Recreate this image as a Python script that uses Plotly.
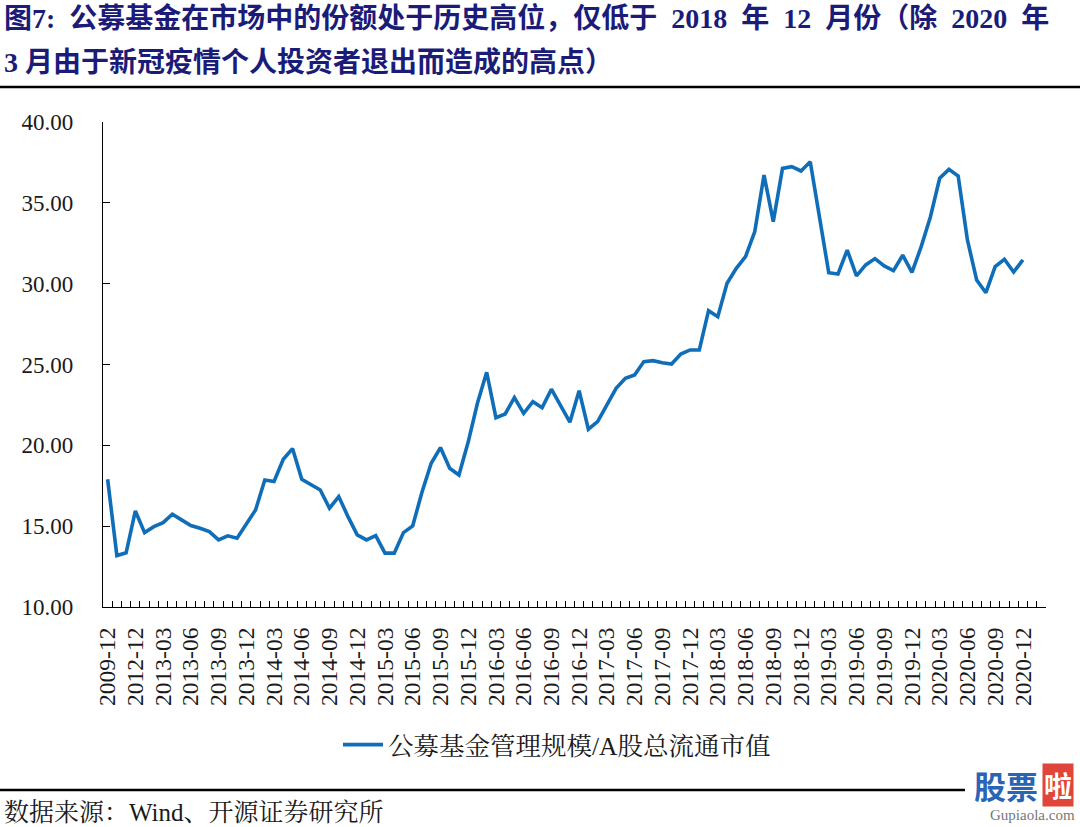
import plotly.graph_objects as go

# ---------------- data ----------------
head_categories = ["2009-12", "2010-12", "2011-12", "2012-12"]
monthly_years = list(range(2013, 2021))
tail_categories = ["2021-01", "2021-02"]
categories = head_categories + [f"{y}-{m:02d}" for y in monthly_years for m in range(1, 13)] + tail_categories

ratio_values = [
    17.90, 13.18, 13.35, 15.94, 14.60, 14.97, 15.22, 15.74, 15.39, 15.04,
    14.87, 14.66, 14.15, 14.40, 14.26, 15.18, 16.00, 17.86, 17.76, 19.14,
    19.80, 17.90, 17.55, 17.24, 16.11, 16.83, 15.59, 14.46, 14.15, 14.42,
    13.33, 13.33, 14.60, 15.02, 17.10, 18.89, 19.86, 18.58, 18.17, 20.20,
    22.60, 24.52, 21.71, 21.94, 22.95, 21.98, 22.70, 22.33, 23.47, 22.50,
    21.43, 23.38, 21.00, 21.47, 22.50, 23.53, 24.15, 24.35, 25.18, 25.24,
    25.11, 25.03, 25.65, 25.90, 25.90, 28.33, 27.96, 30.02, 30.95, 31.67,
    33.22, 36.72, 33.84, 37.13, 37.24, 36.97, 37.54, 33.94, 30.68, 30.60,
    32.08, 30.48, 31.16, 31.55, 31.10, 30.81, 31.76, 30.70, 32.29, 34.14,
    36.52, 37.07, 36.66, 32.70, 30.23, 29.44, 31.05, 31.51, 30.72, 31.47,
]
series_values = ratio_values + [None] * (len(categories) - len(ratio_values))
series_name = "公募基金管理规模/A股总流通市值"
tick_labels = [c if i % 3 == 0 and i < len(ratio_values) else "" for i, c in enumerate(categories)]
y_ticks = [10, 15, 20, 25, 30, 35, 40]

NB = "\u00a0"
S2 = NB * 2
title_line1 = (f"<b>图7:{S2}公募基金在市场中的份额处于历史高位，仅低于{S2}2018{S2}年{S2}12{S2}"
               f"月份（除{S2}2020{S2}年</b>")
title_line2 = f"<b>3{NB}月由于新冠疫情个人投资者退出而造成的高点）</b>"
source_text = "数据来源：Wind、开源证券研究所"

# ---------------- layout helpers ----------------
W, H = 1080, 827
L, R, T, B = 103, 1046, 122, 607


def px(x):
    return (x - L) / (R - L)


def py(y):
    return (B - y) / (B - T)


SERIF = "Liberation Serif, Times New Roman, Noto Serif CJK SC, Noto Sans CJK SC, serif"
LINE_COLOR = "#106EB8"

fig = go.Figure()
fig.add_trace(go.Scatter(
    x=categories, y=series_values, mode="lines", name=series_name,
    line=dict(color=LINE_COLOR, width=3.6), connectgaps=False,
))

fig.update_layout(
    width=W, height=H,
    margin=dict(l=L, r=W - R, t=T, b=H - B, pad=0),
    paper_bgcolor="white", plot_bgcolor="white",
    font=dict(family=SERIF, color="#1a1a1a"),
    showlegend=True,
    legend=dict(
        orientation="h", x=px(338), y=py(745), xanchor="left", yanchor="middle",
        font=dict(family=SERIF, size=25.5, color="#1a1a1a"),
        bgcolor="rgba(0,0,0,0)", itemwidth=40,
    ),
    xaxis=dict(
        type="category", categoryorder="array", categoryarray=categories,
        range=[-0.5, len(categories) - 0.5],
        tickmode="array", tickvals=categories, ticktext=tick_labels,
        tickson="boundaries", ticks="inside", ticklen=6, tickwidth=1, tickcolor="black",
        tickangle=-90, tickfont=dict(family=SERIF, size=23.5, color="#1a1a1a"),
        ticklabelstandoff=10,
        showline=True, linecolor="black", linewidth=1.3, showgrid=False, zeroline=False,
    ),
    yaxis=dict(
        range=[10, 40], tickmode="array", tickvals=y_ticks, tickformat=".2f",
        ticks="inside", ticklen=7, tickwidth=1, tickcolor="black",
        tickfont=dict(family=SERIF, size=23, color="#1a1a1a"),
        ticklabelstandoff=24,
        showline=True, linecolor="black", linewidth=1.3, showgrid=False, zeroline=False,
    ),
)

TITLE_FONT = dict(family="Liberation Serif, Noto Sans CJK SC, serif", size=28, color="#1b1b78")
annotations = [
    dict(text=title_line1, x=px(2), y=py(18), xref="paper", yref="paper",
         xanchor="left", yanchor="middle", showarrow=False, font=TITLE_FONT),
    dict(text=title_line2, x=px(2), y=py(62), xref="paper", yref="paper",
         xanchor="left", yanchor="middle", showarrow=False, font=TITLE_FONT),
    dict(text=source_text, x=px(2), y=py(812), xref="paper", yref="paper",
         xanchor="left", yanchor="middle", showarrow=False,
         font=dict(family=SERIF, size=25, color="#1a1a1a")),
    dict(text="<b>股票</b>", x=px(1040), y=py(785), xref="paper", yref="paper",
         xanchor="right", yanchor="middle", showarrow=False,
         font=dict(family="Noto Sans CJK SC", size=32, color="#2a64b4")),
    dict(text="<b>啦</b>", x=px(1058), y=py(785), xref="paper", yref="paper",
         xanchor="center", yanchor="middle", showarrow=False, bgcolor="#e0453a",
         font=dict(family="Noto Sans CJK SC", size=28, color="white")),
    dict(text="Gupiaola.com", x=px(1077), y=py(815), xref="paper", yref="paper",
         xanchor="right", yanchor="middle", showarrow=False,
         font=dict(family=SERIF, size=15, color="#777777")),
]
fig.update_layout(annotations=annotations)

shapes = [
    dict(type="line", xref="paper", yref="paper", x0=px(0), x1=px(W), y0=py(87), y1=py(87),
         line=dict(color="black", width=2.5)),
    dict(type="line", xref="paper", yref="paper", x0=px(0), x1=px(965), y0=py(790), y1=py(790),
         line=dict(color="black", width=2.5)),
]
fig.update_layout(shapes=shapes)

fig.write_html("out.html")
